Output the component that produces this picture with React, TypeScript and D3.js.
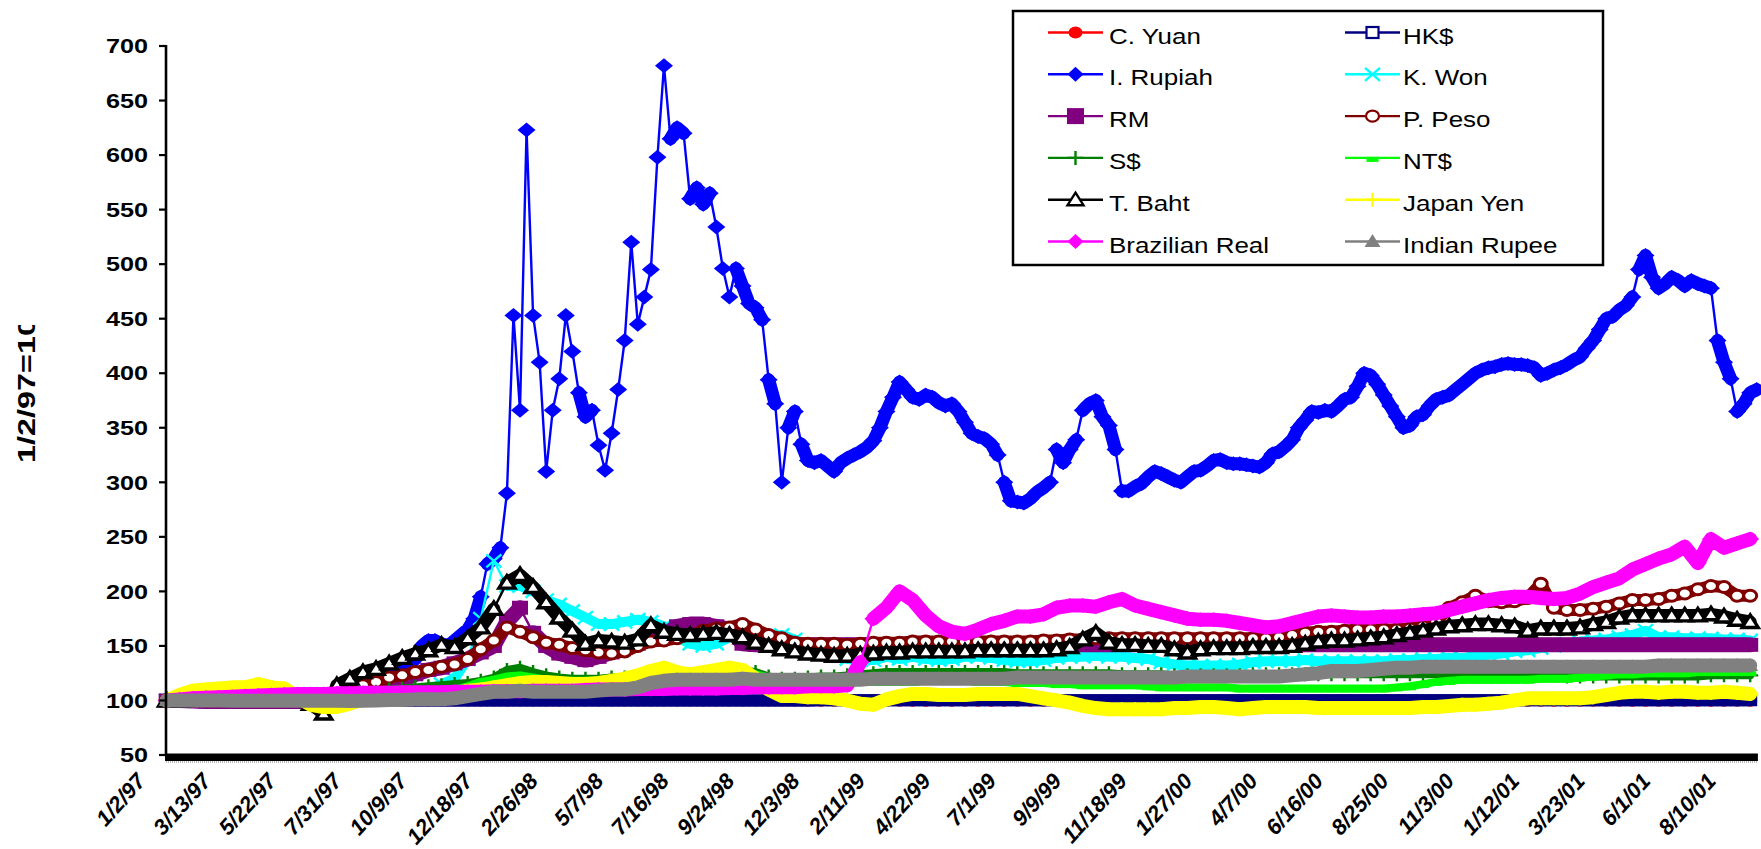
import React from "react";
import * as d3 from "d3";

const WIDTH = 1761;
const HEIGHT = 849;
const FONT = '"Liberation Sans", Arial, Helvetica, sans-serif';

// Category axis: one category per trading day from 1/2/97, labelled every 50 days
const dateLabels = [
  "1/2/97", "3/13/97", "5/22/97", "7/31/97", "10/9/97", "12/18/97", "2/26/98",
  "5/7/98", "7/16/98", "9/24/98", "12/3/98", "2/11/99", "4/22/99", "7/1/99",
  "9/9/99", "11/18/99", "1/27/00", "4/7/00", "6/16/00", "8/25/00", "11/3/00",
  "1/12/01", "3/23/01", "6/1/01", "8/10/01",
];
const LABEL_EVERY = 50;
const TOTAL_DAYS = 1216;

const yTicks = [50, 100, 150, 200, 250, 300, 350, 400, 450, 500, 550, 600, 650, 700];

// Sample days (trading-day index) for the series values below
const gridDays = d3.range(0, 1211, 10);
const rupiahDays = d3.range(0, 1216, 5);

// Index values, 1/2/97 = 100, sampled every 10 trading days
const cYuan = [
  100, 100, 100, 100, 100, 100, 100, 100, 100, 100,
  100, 100, 100, 100, 99.9, 99.9, 99.9, 99.9, 99.9, 99.9,
  99.9, 99.9, 99.9, 99.9, 99.9, 99.9, 99.9, 99.9, 99.9, 99.9,
  99.9, 99.9, 99.9, 99.9, 99.9, 99.9, 99.9, 99.9, 99.9, 99.9,
  99.9, 99.9, 99.9, 99.9, 99.9, 99.9, 99.9, 99.9, 99.9, 99.9,
  99.8, 99.8, 99.8, 99.8, 99.8, 99.8, 99.8, 99.8, 99.8, 99.8,
  99.8, 99.8, 99.8, 99.8, 99.8, 99.8, 99.8, 99.8, 99.8, 99.8,
  99.8, 99.8, 99.8, 99.8, 99.8, 99.8, 99.8, 99.8, 99.8, 99.8,
  99.8, 99.8, 99.8, 99.8, 99.8, 99.8, 99.8, 99.8, 99.8, 99.8,
  99.8, 99.8, 99.8, 99.8, 99.8, 99.8, 99.8, 99.8, 99.8, 99.8,
  99.8, 99.8, 99.8, 99.8, 99.8, 99.8, 99.8, 99.8, 99.8, 99.8,
  99.8, 99.8, 99.8, 99.8, 99.8, 99.8, 99.8, 99.8, 99.8, 99.8,
  99.8, 99.8,
];

const hkDollar = [
  100, 100, 100, 100, 100, 100, 100, 100, 100, 100,
  100, 100, 100, 100, 100, 100, 100, 100, 100, 100,
  100, 100, 100, 100, 100, 100, 100, 100, 100, 100,
  100, 100, 100, 100, 100, 100, 100, 100, 100, 100,
  100, 100, 100, 100, 100, 100, 100, 100, 100, 100,
  100.2, 100.2, 100.2, 100.2, 100.2, 100.2, 100.2, 100.2, 100.2, 100.2,
  100.2, 100.2, 100.2, 100.2, 100.2, 100.2, 100.2, 100.2, 100.2, 100.2,
  100.2, 100.2, 100.2, 100.2, 100.2, 100.2, 100.2, 100.2, 100.2, 100.2,
  100.2, 100.2, 100.2, 100.2, 100.2, 100.2, 100.2, 100.2, 100.2, 100.2,
  100.2, 100.2, 100.2, 100.2, 100.2, 100.2, 100.2, 100.2, 100.2, 100.2,
  100.2, 100.2, 100.2, 100.2, 100.2, 100.2, 100.2, 100.2, 100.2, 100.2,
  100.2, 100.2, 100.2, 100.2, 100.2, 100.2, 100.2, 100.2, 100.2, 100.2,
  100.2, 100.2,
];

// Rupiah sampled every 5 trading days
const rupiah = [
  100, 100, 100.5, 101, 101, 101.5, 101.5, 102, 102, 102, 102, 102.5, 102.5, 102.5, 103, 103, 103, 103, 103, 103.5,
  103.5, 103.5, 104, 104, 104, 105, 106, 108, 110, 112, 113, 116, 122, 128, 125, 127, 130, 133, 138, 150,
  155, 155, 152, 150, 155, 160, 165, 175, 195, 225, 230, 240, 290, 453, 366, 623, 453, 410, 310, 366,
  395, 453, 420, 382, 360, 366, 334, 311, 345, 385, 430, 520, 445, 470, 495, 598, 682, 615, 625, 620,
  560, 570, 555, 565, 534, 496, 470, 496, 480, 464, 460, 449, 394, 372, 300, 350, 365, 335, 320, 318,
  320, 315, 310, 318, 322, 325, 328, 332, 338, 350, 365, 378, 392, 385, 378, 376, 380, 378, 373, 370,
  372, 365, 355, 345, 342, 340, 335, 325, 300, 283, 282, 281, 285, 291, 295, 300, 330, 318, 330, 339,
  366, 372, 375, 360, 352, 330, 292, 292, 296, 299, 305, 310, 308, 305, 302, 300, 305, 310, 311, 315,
  320, 321, 318, 317, 317, 316, 315, 314, 318, 326, 328, 333, 339, 350, 357, 365, 364, 366, 365, 370,
  376, 378, 388, 400, 398, 390, 380, 370, 360, 350, 352, 360, 362, 370, 376, 378, 380, 385, 390, 395,
  400, 403, 405, 406, 408, 409, 408, 408, 407, 405, 398, 400, 403, 405, 408, 412, 415, 423, 430, 440,
  450, 452, 458, 462, 470, 495, 508, 488, 478, 482, 488, 485, 480, 485, 482, 480, 478, 430, 410, 395,
  365, 372, 382, 385,
];

const koreanWon = [
  100, 101, 102, 103, 104, 105, 105, 106, 106, 106,
  106, 106, 106, 106, 106, 106, 106, 107, 107, 108,
  110, 115, 120, 138, 175, 228, 205, 205, 200, 192,
  188, 182, 176, 170, 170, 172, 174, 172, 168, 158,
  152, 150, 152, 158, 162, 160, 158, 160, 156, 150,
  145, 142, 138, 137, 137, 140, 138, 140, 138, 137,
  138, 140, 140, 139, 137, 136, 136, 137, 139, 140,
  140, 141, 140, 140, 139, 138, 135, 133, 132, 132,
  132, 132, 133, 135, 136, 136, 136, 137, 136, 136,
  136, 136, 136, 136, 137, 137, 138, 138, 139, 139,
  140, 142, 143, 145, 146, 148, 150, 152, 154, 155,
  156, 158, 160, 164, 158, 158, 157, 157, 157, 156,
  156, 155,
];

const ringgit = [
  100, 100, 99.5, 99, 99, 99, 99, 99, 99, 99,
  99, 99, 99, 100, 103, 105, 108, 114, 118, 124,
  128, 130, 134, 138, 144, 150, 172, 185, 162, 150,
  143, 140, 137, 140, 144, 148, 152, 156, 160, 168,
  170, 170, 168, 165, 152, 151, 151, 151, 151, 151,
  151, 151, 151, 151, 151, 151, 151, 151, 151, 151,
  151, 151, 151, 151, 151, 151, 151, 151, 151, 151,
  151, 151, 151, 151, 151, 151, 151, 151, 151, 151,
  151, 151, 151, 151, 151, 151, 151, 151, 151, 151,
  151, 151, 151, 151, 151, 151, 151, 151, 151, 151,
  151, 151, 151, 151, 151, 151, 151, 151, 151, 151,
  151, 151, 151, 151, 151, 151, 151, 151, 151, 151,
  151, 151,
];

const pesoPhp = [
  100, 100, 100, 100, 100, 100, 100, 100, 100, 100,
  100, 100, 100, 100, 108, 114, 117, 121, 123, 126,
  128, 131, 133, 138, 147, 155, 167, 163, 158, 153,
  151, 148, 146, 144, 143, 145, 150, 154, 155, 157,
  160, 164, 166, 167, 170, 165, 160, 157, 153, 152,
  152, 152, 151, 152, 153, 153, 153, 154, 154, 154,
  154, 154, 154, 154, 154, 154, 154, 155, 155, 156,
  156, 157, 157, 157, 157, 157, 157, 157, 157, 157,
  157, 157, 157, 157, 157, 158, 160, 162, 163, 163,
  164, 165, 165, 165, 165, 166, 168, 172, 185, 190,
  196, 191, 190, 191, 194, 207, 185, 183, 183, 184,
  186, 189, 192, 192, 193, 196, 198, 202, 205, 204,
  196, 196,
];

const sgDollar = [
  100, 100.5, 101, 101, 101.5, 102, 102, 102, 102, 102,
  102, 102, 102, 102.5, 103, 106, 108, 110, 111, 112,
  113, 114, 115, 116, 118, 121, 128, 130, 126, 123,
  121, 120, 120, 120, 121, 121, 122, 123, 124, 124,
  124, 125, 127, 128, 128, 126, 122, 120, 120, 121,
  122, 122, 123, 124, 125, 126, 126, 126, 126, 126,
  126, 126, 126, 126, 126, 125, 125, 125, 125, 125,
  125, 125, 125, 124, 124, 124, 124, 123, 123, 123,
  123, 123, 123, 124, 124, 124, 124, 124, 124, 124,
  124, 124, 124, 124, 124, 124, 124, 124, 124, 124,
  124, 124, 124, 124, 123, 123, 123, 122, 122, 122,
  122, 122, 122, 122, 122, 122, 122, 122, 123, 123,
  123, 123,
];

const ntDollar = [
  100, 100, 100, 100, 100, 100.5, 101, 101, 101, 101,
  101, 101, 101, 101.5, 102, 103, 104, 104.5, 105, 105,
  105, 107, 110, 113, 117, 119, 122, 123, 121, 119,
  118, 118, 118, 118, 119, 120, 121, 122, 124, 125,
  126, 126, 127, 127, 126, 124, 121, 119, 118, 118,
  118, 118, 118, 117, 117, 117, 117, 117, 118, 118,
  118, 118, 117, 117, 117, 116, 116, 116, 115, 115,
  114, 114, 114, 114, 114, 113, 112, 112, 112, 112,
  112, 112, 111, 111, 111, 111, 111, 111, 111, 111,
  111, 111, 111, 111, 112, 113, 115, 117, 118, 119,
  119, 119, 119, 119, 119, 120, 120, 120, 121, 122,
  123, 124, 124, 125, 125, 125, 125, 126, 126, 126,
  126, 126,
];

const thaiBaht = [
  100, 100, 100.5, 100.5, 101, 101, 101, 101, 101.5, 101.5,
  101, 97, 88, 114, 120, 126, 129, 134, 139, 143,
  146, 151, 149, 157, 167, 184, 208, 215, 204, 190,
  176, 164, 152, 155, 154, 153, 156, 169, 163, 161,
  160, 161, 162, 160, 158, 153, 150, 147, 145, 143,
  142, 141, 141, 142, 143, 144, 144, 145, 145, 145,
  145, 145, 146, 146, 146, 146, 146, 146, 147, 149,
  156, 162, 153, 151, 151, 150, 150, 147, 144, 147,
  148, 148, 148, 149, 149, 149, 150, 152, 154, 155,
  155, 156, 157, 158, 160, 162, 164, 166, 168, 169,
  170, 170, 169, 168, 164, 166, 166, 166, 167, 170,
  172, 176, 178, 178, 178, 178, 178, 178, 179, 177,
  174, 172,
];

const japanYen = [
  100, 105, 109, 110, 111, 112, 112, 115, 112, 111,
  103, 96, 94, 94, 97, 101, 102, 103, 103, 104,
  104, 104, 106, 109, 110, 112, 114, 116, 117, 117,
  116, 115, 115, 116, 118, 120, 123, 127, 130, 126,
  124, 126, 128, 130, 128, 120, 110, 104, 104, 103,
  103, 102, 100, 97, 96, 101, 104, 106, 106, 105,
  105, 105, 106, 106, 106, 106, 104, 102, 100, 98,
  95, 93, 92, 92, 92, 92, 92, 93, 93, 94,
  94, 93, 92, 93, 94, 94, 94, 94, 93, 93,
  93, 93, 93, 93, 93, 93, 94, 94, 95, 96,
  96, 97, 98, 100, 102, 102, 102, 102, 102, 103,
  105, 107, 108, 108, 107, 108, 108, 107, 107, 108,
  107, 106,
];

const brazilReal = [
  100, 101, 102, 102.5, 103, 103.5, 104, 104.5, 105, 105.5,
  106, 106, 106, 106.5, 106.5, 107, 107, 107, 107.5, 107.5,
  107.5, 107.5, 108, 108, 108, 108.5, 108.5, 108.5, 109, 109,
  109, 109, 109.5, 110, 110, 110, 110.5, 110.5, 110.5, 111,
  111, 111, 111, 111.5, 111.5, 112, 112, 112, 112, 113,
  113, 113, 114, 135, 175, 185, 200, 192, 178, 168,
  163, 161, 165, 170, 173, 177, 177, 179, 185, 187,
  187, 186, 190, 193, 187, 184, 181, 178, 175, 174,
  174, 173, 171, 169, 167, 168, 171, 174, 177, 178,
  177, 176, 176, 177, 177, 178, 179, 180, 183, 186,
  189, 192, 194, 195, 195, 194, 193, 194, 198, 204,
  208, 212, 220, 225, 230, 234, 241, 226, 248, 240,
  244, 248,
];

const indianRupee = [
  100, 100, 100, 100, 100, 99.8, 99.8, 99.8, 99.8, 99.8,
  99.8, 99.8, 99.8, 99.8, 99.5, 99.8, 100, 100.5, 100.5, 101,
  101, 101, 102, 104, 106, 108, 108, 109, 108, 108,
  108, 108, 108, 109, 110, 110, 112, 116, 118, 119,
  119, 119, 119, 119, 120, 119, 119, 119, 119, 119,
  119, 119, 119, 119, 120, 120, 120, 120, 120, 120,
  120, 120, 120, 120, 120, 121, 121, 121, 121, 121,
  121, 121, 121, 121, 121, 121, 121, 121, 122, 122,
  122, 122, 122, 122, 122, 122, 123, 124, 125, 127,
  127, 127, 128, 129, 130, 130, 131, 131, 131, 131,
  131, 131, 131, 131, 131, 131, 131, 131, 131, 131,
  131, 131, 131, 131, 132, 132, 132, 132, 132, 132,
  132, 132,
];

type MarkerKind =
  | "circle" | "hollowSquare" | "diamond" | "times" | "square" | "hollowCircle"
  | "plus" | "dash" | "hollowTriangle" | "triangle";

interface Series {
  name: string;
  color: string;
  marker: MarkerKind;
  band: number;
  days: number[];
  values: number[];
}

const series: Series[] = [
  { name: "C. Yuan", color: "#FF0000", marker: "circle", band: 10, days: gridDays, values: cYuan },
  { name: "HK$", color: "#000080", marker: "hollowSquare", band: 12, days: gridDays, values: hkDollar },
  { name: "I. Rupiah", color: "#0000FF", marker: "diamond", band: 13, days: rupiahDays, values: rupiah },
  { name: "K. Won", color: "#00FFFF", marker: "times", band: 10, days: gridDays, values: koreanWon },
  { name: "RM", color: "#800080", marker: "square", band: 15, days: gridDays, values: ringgit },
  { name: "P. Peso", color: "#800000", marker: "hollowCircle", band: 12, days: gridDays, values: pesoPhp },
  { name: "S$", color: "#008000", marker: "plus", band: 8, days: gridDays, values: sgDollar },
  { name: "NT$", color: "#00FF00", marker: "dash", band: 8, days: gridDays, values: ntDollar },
  { name: "T. Baht", color: "#000000", marker: "hollowTriangle", band: 13, days: gridDays, values: thaiBaht },
  { name: "Japan Yen", color: "#FFFF00", marker: "plus", band: 14, days: gridDays, values: japanYen },
  { name: "Brazilian Real", color: "#FF00FF", marker: "diamond", band: 14, days: gridDays, values: brazilReal },
  { name: "Indian Rupee", color: "#808080", marker: "triangle", band: 14, days: gridDays, values: indianRupee },
];

const PLOT_LEFT = 166;
const PLOT_RIGHT = 1757.4;
const PLOT_TOP = 46;
const PLOT_BOTTOM = 755;
// Consecutive points closer than this (px, vertically) merge into one thick band
const BAND_STEP_LIMIT = 24;

const x = d3.scaleLinear().domain([-0.5, TOTAL_DAYS - 0.5]).range([PLOT_LEFT, PLOT_RIGHT]);
const y = d3.scaleLinear().domain([50, 700]).range([PLOT_BOTTOM, PLOT_TOP]);

function Marker({
  kind, cx, cy, color, inPlot,
}: { kind: MarkerKind; cx: number; cy: number; color: string; inPlot: boolean }) {
  switch (kind) {
    case "circle":
      return <ellipse cx={cx} cy={cy} rx={7} ry={6} fill={color} />;
    case "hollowCircle":
      return <ellipse cx={cx} cy={cy} rx={6.5} ry={5.5} fill="#fff" stroke={color} strokeWidth={inPlot ? 3 : 2.2} />;
    case "hollowSquare":
      return inPlot ? (
        <rect x={cx - 7} y={cy - 6} width={14} height={12} fill={color} />
      ) : (
        <rect x={cx - 6} y={cy - 5.5} width={12} height={11} fill="#fff" stroke={color} strokeWidth={2.2} />
      );
    case "square":
      return inPlot ? (
        <rect x={cx - 8} y={cy - 7} width={16} height={14} fill={color} />
      ) : (
        <rect x={cx - 8.5} y={cy - 8} width={17} height={16} fill={color} />
      );
    case "diamond": {
      const w = inPlot ? 9 : 8;
      const h = 7.5;
      return <path d={`M${cx},${cy - h}L${cx + w},${cy}L${cx},${cy + h}L${cx - w},${cy}Z`} fill={color} />;
    }
    case "times":
      return (
        <path
          d={`M${cx - 7.5},${cy - 6.5}L${cx + 7.5},${cy + 6.5}M${cx - 7.5},${cy + 6.5}L${cx + 7.5},${cy - 6.5}`}
          stroke={color}
          strokeWidth={2.4}
        />
      );
    case "plus":
      return <path d={`M${cx - 8},${cy}H${cx + 8}M${cx},${cy - 7}V${cy + 7}`} stroke={color} strokeWidth={2.4} />;
    case "dash":
      return <rect x={cx - 6} y={cy - 1} width={12} height={5} fill={color} />;
    case "hollowTriangle":
      return (
        <path
          d={`M${cx},${cy - 7}L${cx + 8},${cy + 5.5}L${cx - 8},${cy + 5.5}Z`}
          fill="#fff"
          stroke={color}
          strokeWidth={inPlot ? 3.4 : 2.4}
          strokeLinejoin="miter"
        />
      );
    case "triangle":
      return <path d={`M${cx},${cy - 7.5}L${cx + 8},${cy + 5.5}L${cx - 8},${cy + 5.5}Z`} fill={color} />;
    default:
      return null;
  }
}

// Thick band path through runs of points that move only a little between samples
function bandPath(pts: [number, number][]): string {
  let d = "";
  let open = false;
  for (let k = 1; k < pts.length; k++) {
    const [x0, y0] = pts[k - 1];
    const [x1, y1] = pts[k];
    if (Math.abs(y1 - y0) <= BAND_STEP_LIMIT) {
      if (!open) d += `M${x0},${y0}`;
      d += `L${x1},${y1}`;
      open = true;
    } else {
      open = false;
    }
  }
  return d;
}

function SeriesMarks({ s }: { s: Series }) {
  const pts: [number, number][] = s.days.map((d, k) => [x(d), y(s.values[k])]);
  const line = d3.line<[number, number]>().x((p) => p[0]).y((p) => p[1]);
  const path = line(pts) || "";
  return (
    <g>
      <path d={bandPath(pts)} fill="none" stroke={s.color} strokeWidth={s.band} strokeLinejoin="round" strokeLinecap="round" />
      <path d={path} fill="none" stroke={s.color} strokeWidth={2.4} strokeLinejoin="round" />
      {pts.map((p, k) => (
        <Marker key={k} kind={s.marker} cx={p[0]} cy={p[1]} color={s.color} inPlot={true} />
      ))}
    </g>
  );
}

const LEGEND = { x: 1013, y: 11, w: 590, h: 254 };
const legendCols = [
  { lineX: 1048, textX: 1109 },
  { lineX: 1345, textX: 1403 },
];
const LEGEND_ROW0 = 32.5;
const LEGEND_ROW_STEP = 41.8;
const LEGEND_LINE = 55;

export default function App() {
  return (
    <svg
      width={WIDTH}
      height={HEIGHT}
      viewBox={`0 0 ${WIDTH} ${HEIGHT}`}
      style={{ position: "absolute", left: 0, top: 0, display: "block", background: "#fff" }}
      fontFamily={FONT}
    >
      <defs>
        <clipPath id="titleClip">
          <rect x={0} y={325} width={80} height={300} />
        </clipPath>
      </defs>
      <rect x={0} y={0} width={WIDTH} height={HEIGHT} fill="#fff" />

      {/* data series, first series at the bottom */}
      {series.map((s) => (
        <SeriesMarks key={s.name} s={s} />
      ))}

      {/* value axis */}
      <line x1={PLOT_LEFT} x2={PLOT_LEFT} y1={PLOT_TOP - 1} y2={PLOT_BOTTOM + 1} stroke="#000" strokeWidth={2.6} />
      {yTicks.map((t) => (
        <g key={t}>
          <line x1={PLOT_LEFT - 7} x2={PLOT_LEFT} y1={y(t)} y2={y(t)} stroke="#000" strokeWidth={2.2} />
          <text
            transform={`translate(148,${y(t)}) scale(1.2,1)`}
            textAnchor="end"
            dominantBaseline="central"
            fontSize={21}
            fontWeight="bold"
            fill="#000"
          >
            {t}
          </text>
        </g>
      ))}

      {/* category axis with dense tick marks */}
      <rect x={PLOT_LEFT - 1} y={753.5} width={PLOT_RIGHT - PLOT_LEFT + 1.5} height={7.5} fill="#000" />
      <line x1={PLOT_LEFT} x2={PLOT_RIGHT} y1={762} y2={762} stroke="#777" strokeWidth={1} strokeDasharray="1,1" />
      {dateLabels.map((lab, k) => (
        <text
          key={lab}
          transform={`translate(${x(k * LABEL_EVERY) - 20},782) rotate(-48)`}
          textAnchor="end"
          fontSize={22}
          fontWeight="bold"
          fontStyle="italic"
          fill="#000"
        >
          {lab}
        </text>
      ))}

      {/* axis title */}
      <g clipPath="url(#titleClip)">
        <text
          transform="translate(35,463) rotate(-90) scale(1.35,1)"
          fontSize={24}
          fontWeight="bold"
          fill="#000"
        >
          1/2/97=100
        </text>
      </g>

      {/* legend */}
      <rect x={LEGEND.x} y={LEGEND.y} width={LEGEND.w} height={LEGEND.h} fill="#fff" stroke="#000" strokeWidth={2.5} />
      {series.map((s, k) => {
        const col = legendCols[k % 2];
        const ry = LEGEND_ROW0 + Math.floor(k / 2) * LEGEND_ROW_STEP;
        return (
          <g key={s.name}>
            <line x1={col.lineX} x2={col.lineX + LEGEND_LINE} y1={ry} y2={ry} stroke={s.color} strokeWidth={2.4} />
            <Marker kind={s.marker} cx={col.lineX + LEGEND_LINE / 2} cy={ry} color={s.color} inPlot={false} />
            <text transform={`translate(${col.textX},${ry + 11}) scale(1.18,1)`} fontSize={22} fill="#000">
              {s.name}
            </text>
          </g>
        );
      })}
    </svg>
  );
}
